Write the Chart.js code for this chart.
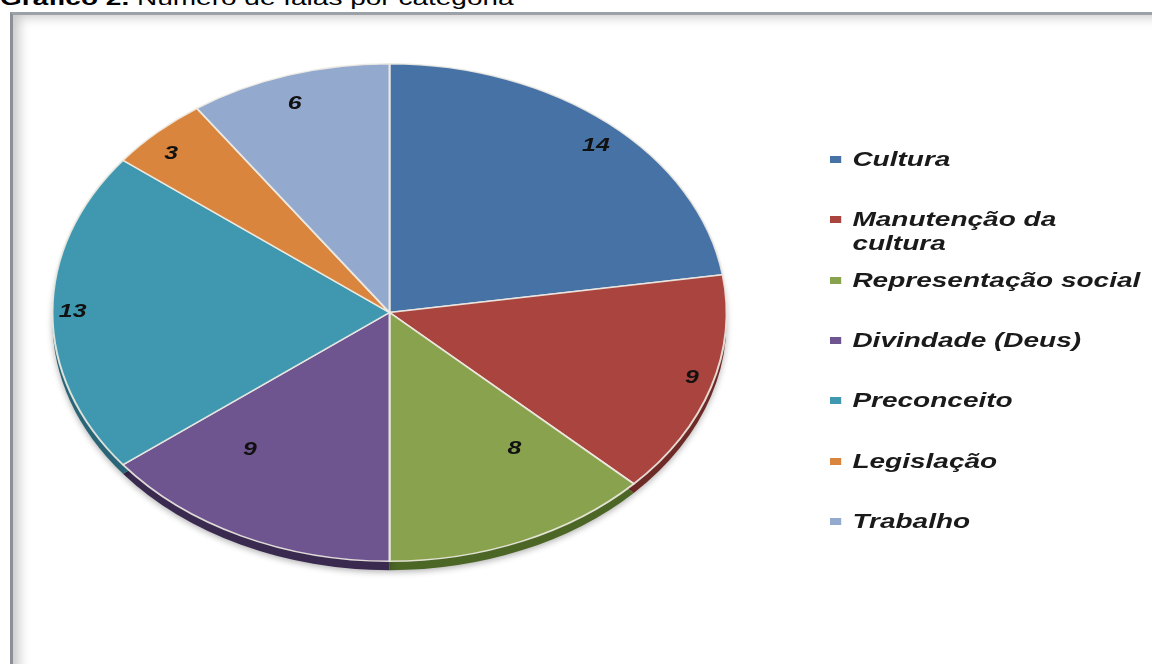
<!DOCTYPE html>
<html lang="pt">
<head>
<meta charset="utf-8">
<title>Gráfico 2</title>
<script src="https://cdn.jsdelivr.net/npm/chart.js@4.4.1/dist/chart.umd.min.js"></script>
<style>
    html, body { margin: 0; padding: 0; background: #fff; overflow: hidden; }
    #wrap { position: relative; width: 1152px; height: 664px; overflow: hidden; font-family: "Liberation Sans", Arial, sans-serif; }
    #title { position: absolute; left: 0; top: -11px; font-size: 20px; line-height: 18px; white-space: nowrap; color: #000; transform: scaleX(1.4); transform-origin: 0 0; }
    #frame { position: absolute; left: 10px; top: 12px; width: 1200px; height: 700px; border-top: 3px solid #9ba1a7; border-left: 3px solid #8b9096; box-shadow: inset 12px 8px 12px -6px rgba(0,0,0,0.22); }
    #pie { position: absolute; left: 0; top: 0; }
    .item { position: absolute; left: 830px; display: flex; align-items: flex-start; transform: scaleX(1.4); transform-origin: 0 0; font: italic bold 20px "Liberation Sans", Arial, sans-serif; line-height: 24px; color: #1a1a1a; }
    .item .box { flex: none; width: 8px; height: 7px; margin-top: 9px; margin-right: 8px; }
    .item .txt { width: 210px; }
</style>
</head>
<body>
<div id="wrap">
    <div id="title"><b>Gráfico 2.</b> Número de falas por categoria</div>
    <div id="frame"></div>
    <canvas id="pie" width="1152" height="664"></canvas>
    <div id="legend"></div>
</div>
<script>
const categorias = ['Cultura', 'Manutenção da cultura', 'Representação social', 'Divindade (Deus)', 'Preconceito', 'Legislação', 'Trabalho'];
const falas = [14, 9, 8, 9, 13, 3, 6];
const cores = ['#4672A6', '#A9443F', '#88A24D', '#6F5590', '#3F98B0', '#DA853E', '#94A9CE'];
const coresLado = ['#2e4d75', '#6e2a27', '#4c6626', '#3a2a50', '#2a6577', '#8f5426', '#5f7394'];

const SX = 1.355;   // the pie is drawn as a flattened ellipse
const DEPTH = 9;    // thickness of the 3d edge

const ellipsePlugin = {
    id: 'ellipse',
    beforeDatasetsDraw(chart) {
        const ctx = chart.ctx;
        const arcs = chart.getDatasetMeta(0).data;
        const cx = arcs[0].x;
        ctx.save();
        ctx.translate(cx, 0);
        ctx.scale(SX, 1);
        ctx.translate(-cx, 0);

        // side of the pie, below the face
        ctx.save();
        ctx.shadowColor = 'rgba(0,0,0,0.3)';
        ctx.shadowBlur = 6;
        ctx.shadowOffsetY = 2;
        arcs.forEach((arc, i) => {
            ctx.beginPath();
            ctx.moveTo(arc.x, arc.y + DEPTH);
            ctx.arc(arc.x, arc.y + DEPTH, arc.outerRadius, arc.startAngle, arc.endAngle);
            ctx.closePath();
            ctx.fillStyle = coresLado[i];
            ctx.fill();
        });
        ctx.restore();
    },
    afterDatasetsDraw(chart) {
        const ctx = chart.ctx;
        ctx.restore();

        // value labels
        const arcs = chart.getDatasetMeta(0).data;
        ctx.save();
        ctx.font = 'italic bold 18px "Liberation Sans", Arial, sans-serif';
        ctx.fillStyle = '#111';
        ctx.textAlign = 'center';
        ctx.textBaseline = 'middle';
        arcs.forEach((arc, i) => {
            const mid = (arc.startAngle + arc.endAngle) / 2;
            const c = Math.cos(mid), s = Math.sin(mid);
            const fy = s > 0 ? 0.92 - 0.38 * s * s : 0.88;
            const px = arc.x + SX * arc.outerRadius * 0.94 * c;
            const py = arc.y + arc.outerRadius * s * fy;
            ctx.save();
            ctx.translate(px, py);
            ctx.scale(1.38, 1);
            ctx.fillText(String(falas[i]), 0, 0);
            ctx.restore();
        });
        ctx.restore();
    }
};

const pieChart = new Chart(document.getElementById('pie').getContext('2d'), {
    type: 'pie',
    data: {
        labels: categorias,
        datasets: [{
            data: falas,
            backgroundColor: cores,
            borderColor: 'rgba(240,236,228,0.9)',
            borderWidth: 1.5,
            clip: false
        }]
    },
    options: {
        responsive: false,
        animation: false,
        events: [],
        layout: { padding: { top: 63, left: 140, right: 513, bottom: 102 } },
        plugins: {
            legend: { display: false },
            tooltip: { enabled: false }
        }
    },
    plugins: [ellipsePlugin]
});

// legend on the right
const legend = document.getElementById('legend');
categorias.forEach((nome, i) => {
    const item = document.createElement('div');
    item.className = 'item';
    item.style.top = (159 + i * 60.33 - 12) + 'px';
    item.innerHTML = '<span class="box" style="background:' + cores[i] + '"></span><span class="txt"></span>';
    item.querySelector('.txt').textContent = nome;
    legend.appendChild(item);
});
</script>
</body>
</html>
